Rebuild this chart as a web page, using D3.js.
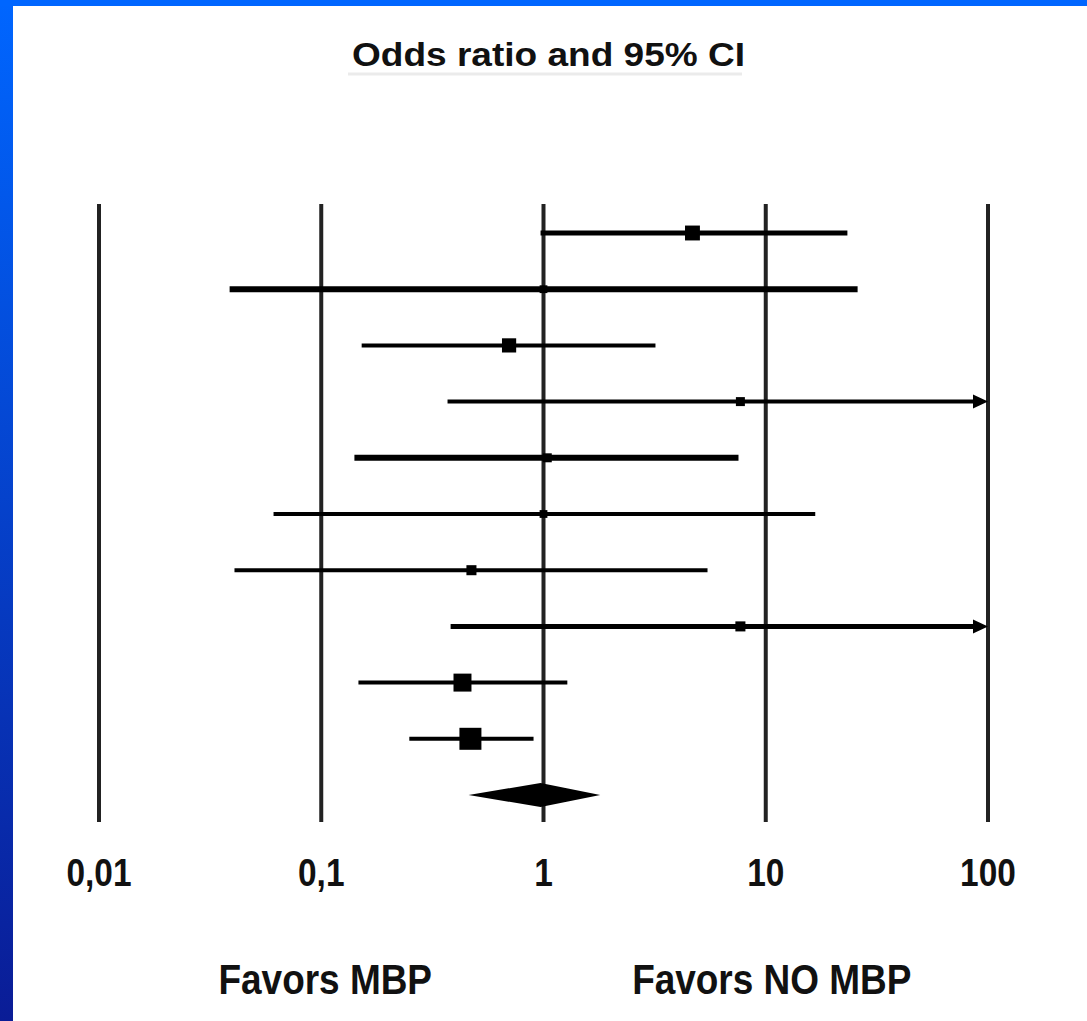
<!DOCTYPE html>
<html>
<head>
<meta charset="utf-8">
<script src="https://cdn.jsdelivr.net/npm/d3@7"></script>
<style>
  html, body { margin: 0; padding: 0; background: #fff; }
  svg { display: block; }
</style>
</head>
<body>
<svg id="chart" width="1087" height="1021"></svg>
<script>
// odds ratios, one per study row (top to bottom)
const oddsRatio = [4.68, 1.0, 0.70, 7.69, 1.04, 1.0, 0.474, 7.69, 0.432, 0.469]
const ciLow     = [0.97, 0.0387, 0.152, 0.370, 0.141, 0.061, 0.0407, 0.382, 0.147, 0.249]
const ciHigh    = [23.3, 25.9, 3.19, 100, 7.54, 16.7, 5.47, 100, 1.28, 0.902]
const weights   = [2.2, 0.6, 2.0, 0.8, 0.8, 0.6, 1.0, 1.0, 3.2, 4.8]
const pooled    = { or: 0.97, lo: 0.46, hi: 1.80 }
const tickValues = [0.01, 0.1, 1, 10, 100]
const tickLabels = ['0,01', '0,1', '1', '10', '100']
const sideLabels = ['Favors MBP', 'Favors NO MBP']

// line thickness per row as drawn in the original
const strokeW = [5, 6, 4, 4, 6, 4, 4, 5, 4, 4]

const svg = d3.select('#chart')
const W = 1087, H = 1021

// blue slide frame
const defs = svg.append('defs')
const grad = defs.append('linearGradient')
  .attr('id', 'frame').attr('x1', 0).attr('y1', 0).attr('x2', 0).attr('y2', 1)
grad.append('stop').attr('offset', '0%').attr('stop-color', '#0066ff')
grad.append('stop').attr('offset', '100%').attr('stop-color', '#0a1c96')
svg.append('rect').attr('width', W).attr('height', H).attr('fill', 'url(#frame)')
svg.append('rect').attr('x', 0).attr('width', W).attr('height', 6).attr('fill', '#0066ff')
svg.append('rect').attr('x', 13).attr('y', 6).attr('width', W - 13).attr('height', H - 6).attr('fill', '#fff')

const x = d3.scaleLog().domain([0.01, 100]).range([99, 988])
const rows = d3.range(oddsRatio.length + 1)
const y = d3.scalePoint().domain(rows).range([233, 795])
const size = d3.scaleSqrt().domain([0, 4.8]).range([0, 22])

// title with its faint underline
svg.append('line')
  .attr('x1', 348).attr('x2', 742).attr('y1', 74).attr('y2', 74)
  .attr('stroke', '#ebebeb').attr('stroke-width', 3)
svg.append('text')
  .attr('x', 352).attr('y', 66)
  .attr('textLength', 393).attr('lengthAdjust', 'spacingAndGlyphs')
  .style('font-family', 'Liberation Sans, Arial, sans-serif')
  .style('font-weight', 'bold').style('font-size', '33px')
  .attr('fill', '#111')
  .text('Odds ratio and 95% CI')

// vertical reference lines
svg.append('g').selectAll('line')
  .data(tickValues)
  .join('line')
  .attr('x1', d => x(d)).attr('x2', d => x(d))
  .attr('y1', 204).attr('y2', 822)
  .attr('stroke', '#222').attr('stroke-width', 4)

// tick labels (condensed bold)
svg.append('g').selectAll('text')
  .data(tickValues)
  .join('text')
  .attr('transform', d => `translate(${x(d)},886) scale(0.88,1)`)
  .attr('text-anchor', 'middle')
  .style('font-family', 'Liberation Sans, Arial, sans-serif')
  .style('font-weight', 'bold').style('font-size', '38px')
  .attr('fill', '#111')
  .text((d, i) => tickLabels[i])

// favours labels under 0,1 and 10
svg.append('g').selectAll('text')
  .data(sideLabels)
  .join('text')
  .attr('transform', (d, i) => `translate(${x(i === 0 ? 0.1 : 10) + (i === 0 ? 4 : 6)},994) scale(0.88,1)`)
  .attr('text-anchor', 'middle')
  .style('font-family', 'Liberation Sans, Arial, sans-serif')
  .style('font-weight', 'bold').style('font-size', '42px')
  .attr('fill', '#111')
  .text(d => d)

// study rows
const study = svg.append('g').selectAll('g')
  .data(oddsRatio.map((or, i) => ({ or, lo: ciLow[i], hi: ciHigh[i], w: weights[i], i })))
  .join('g')
  .attr('transform', d => `translate(0,${y(d.i)})`)

study.append('line')
  .attr('x1', d => x(d.lo))
  .attr('x2', d => d.hi >= 100 ? x(100) - 10 : x(d.hi))
  .attr('stroke', '#000')
  .attr('stroke-width', d => strokeW[d.i])

// arrow heads for intervals running off the scale
study.filter(d => d.hi >= 100)
  .append('path')
  .attr('d', () => {
    const tip = x(100)
    return `M${tip - 15},-7 L${tip},0 L${tip - 15},7 Z`
  })
  .attr('fill', '#000')

study.append('rect')
  .attr('x', d => x(d.or) - size(d.w) / 2)
  .attr('y', d => -size(d.w) / 2)
  .attr('width', d => size(d.w))
  .attr('height', d => size(d.w))
  .attr('fill', '#000')

// pooled diamond
const py = y(rows.length - 1)
svg.append('path')
  .attr('d', `M${x(pooled.lo)},${py} L${x(pooled.or)},${py - 12} L${x(pooled.hi)},${py} L${x(pooled.or)},${py + 12} Z`)
  .attr('fill', '#000')
</script>
</body>
</html>
